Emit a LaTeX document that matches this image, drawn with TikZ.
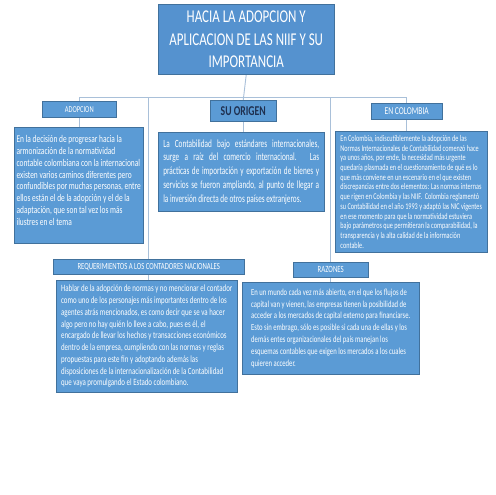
\documentclass[tikz,border=0pt]{standalone}
\usepackage{fontspec}
\setmainfont{Carlito}[FakeStretch=0.72]
\newfontfamily\fontEE{Carlito}[FakeStretch=0.705]
\newfontfamily\fontDD{Carlito}[FakeStretch=0.66]
\newfontfamily\fontFF{Carlito}[FakeStretch=0.715]
\usetikzlibrary{backgrounds}
\definecolor{boxblue}{HTML}{5B9BD5}
\definecolor{titleblue}{HTML}{5592CF}
\definecolor{boxedge}{HTML}{41719C}
\definecolor{linkcol}{HTML}{A9C0D9}
\definecolor{navy}{HTML}{1F3050}
\tikzset{
  box/.style={fill=boxblue, draw=boxedge, line width=0.5pt, text=white, anchor=north west, inner ysep=0pt, inner xsep=0pt, align=center},
  body/.style={box, align=left, inner xsep=2pt},
  link/.style={draw=linkcol, line width=0.9pt},
}
\begin{document}
\begin{tikzpicture}[x=1pt,y=-1pt]
% title
\node[box, fill=titleblue, minimum width=176pt, minimum height=70pt, font=\fontsize{18}{22.5}\selectfont] (title) at (158,4)
  {HACIA LA ADOPCION Y\\APLICACION DE LAS NIIF Y SU\\IMPORTANCIA};
% labels
\node[box, minimum width=74pt, minimum height=16pt, font=\fontsize{9}{10}\selectfont] (adl) at (42,101) {ADOPCION};
\node[box, minimum width=66pt, minimum height=21pt, text=navy, font=\fontsize{13.5}{15}\selectfont\bfseries] (sol) at (210,100) {SU ORIGEN};
\node[box, minimum width=71pt, minimum height=16pt, font=\fontsize{10.5}{11}\selectfont] (ecl) at (371,103) {EN COLOMBIA};
\node[box, minimum width=191pt, minimum height=15pt, font=\fontsize{9.3}{10}\selectfont] (rql) at (53,259) {REQUERIMIENTOS A LOS CONTADORES NACIONALES};
\node[box, minimum width=75pt, minimum height=15pt, font=\fontsize{9.5}{10}\selectfont] (rzl) at (293,262) {RAZONES};
% text boxes
\node[body, minimum width=129pt, minimum height=116pt, font=\fontsize{10.3}{11.8}\selectfont] (adt) at (14,127)
  {En la decisión de progresar hacia la\\armonización de la normatividad\\contable colombiana con la internacional\\existen varios caminos diferentes pero\\confundibles por muchas personas, entre\\ellos están el de la adopción y el de la\\adaptación, que son tal vez los más\\ilustres en el tema\\[-2pt]};
\node[body, inner xsep=5pt, align=justify, text width=156pt, minimum height=79pt, font=\fontDD\fontsize{11}{13.7}\selectfont] (sot) at (158,132)
  {La Contabilidad bajo estándares internacionales,\linebreak surge a raíz del comercio internacional. Las\linebreak prácticas de importación y exportación de bienes y\linebreak servicios se fueron ampliando, al punto de llegar a\linebreak la inversión directa de otros países extranjeros.};
\node[body, minimum width=152pt, minimum height=121pt, font=\fontEE\fontsize{8.8}{9.7}\selectfont] (ect) at (335,131)
  {En Colombia, indiscutiblemente la adopción de las\\Normas Internacionales de Contabilidad comenzó hace\\ya unos años, por ende, la necesidad más urgente\\quedaría plasmada en el cuestionamiento de qué es lo\\que más conviene en un escenario en el que existen\\discrepancias entre dos elementos: Las normas internas\\que rigen en Colombia y las NIIF.\ \ Colombia reglamentó\\su Contabilidad en el año 1993 y adaptó las NIC vigentes\\en ese momento para que la normatividad estuviera\\bajo parámetros que permitieran la comparabilidad, la\\transparencia y la alta calidad de la información\\contable.};
\node[body, minimum width=181pt, minimum height=112pt, font=\fontsize{9.6}{11.75}\selectfont] (rqt) at (56,280)
  {Hablar de la adopción de normas y no mencionar el contador\\como uno de los personajes más importantes dentro de los\\agentes atrás mencionados, es como decir que se va hacer\\algo pero no hay quién lo lleve a cabo, pues es él, el\\encargado de llevar los hechos y transacciones económicos\\dentro de la empresa, cumpliendo con las normas y reglas\\propuestas para este fin y adoptando además las\\disposiciones de la internacionalización de la Contabilidad\\que vaya promulgando el Estado colombiano.};
\node[body, minimum width=177pt, minimum height=92pt, font=\fontFF\fontsize{9.3}{11.8}\selectfont] (rzt) at (242,282)
  {En un mundo cada vez más abierto, en el que los flujos de\\capital van y vienen, las empresas tienen la posibilidad de\\acceder a los mercados de capital externo para financiarse.\\Esto sin embrago, sólo es posible si cada una de ellas y los\\demás entes organizacionales del país manejan los\\esquemas contables que exigen los mercados a los cuales\\quieren acceder.};
% connectors
\begin{scope}[on background layer]
\path[use as bounding box, fill=white] (0,0) rectangle (495,495);
\coordinate (bus) at (0,97);
\draw[link] (title.south) -- (sol.north);
\draw[link] (adl.north |- bus) -- (ecl.north |- bus);
\draw[link] (adl.north |- bus) -- (adl.north);
\draw[link] (ecl.north |- bus) -- (ecl.north);
\draw[link] (rql.north |- bus) -- (rql.north);
\draw[link] (rzl.north |- bus) -- (rzl.north);
\draw[link] (adl.south) -- (adl.south |- adt.north);
\draw[link] (sol.south) -- (sol.south |- sot.north);
\draw[link] (ecl.south) -- (ecl.south |- ect.north);
\draw[link] (rql.south) -- (rql.south |- rqt.north);
\draw[link] (rzl.south) -- (rzl.south |- rzt.north);
\end{scope}
\end{tikzpicture}
\end{document}
